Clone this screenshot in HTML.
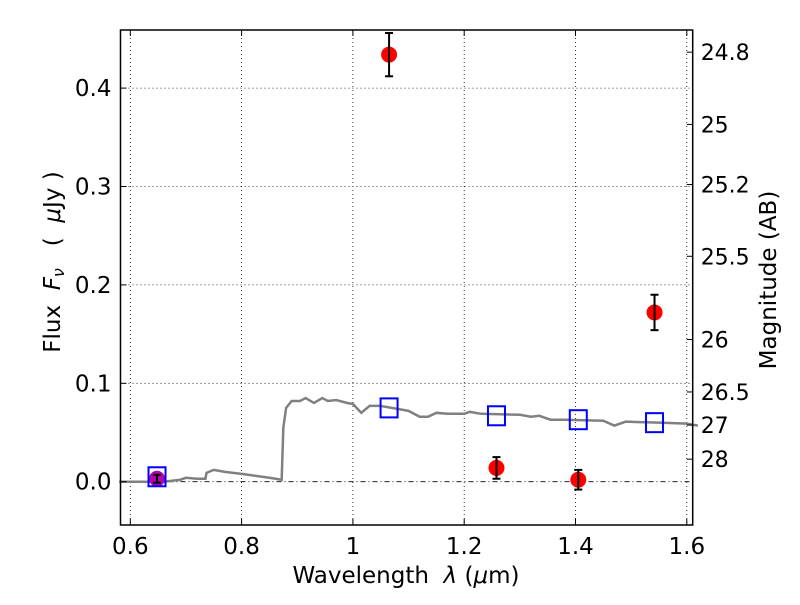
<!DOCTYPE html>
<html><head><meta charset="utf-8"><style>
body{margin:0;background:#fff}
svg text{font-family:"DejaVu Sans","Liberation Sans",sans-serif;fill:#000}
</style></head><body>
<svg id="chart" width="800" height="600" xmlns="http://www.w3.org/2000/svg">
<rect width="800" height="600" fill="#fff"/>
<g id="grid"></g>
<g id="marks"></g>
<g id="axes"></g>
<text x="406" y="583" font-size="23" text-anchor="middle">Wavelength&#160;&#160;<tspan font-style="italic">λ</tspan>&#160;(<tspan font-style="italic">μ</tspan>m)</text>
<text transform="translate(60,262) rotate(-90)" font-size="23" text-anchor="middle">Flux&#160;&#160;<tspan font-style="italic">F<tspan font-size="16" dy="4">ν</tspan></tspan><tspan dy="-4">&#160;&#160;&#160;(&#160;&#160;</tspan><tspan font-style="italic">μ</tspan>Jy&#160;)</text>
<text transform="translate(776,280) rotate(-90)" font-size="23" text-anchor="middle">Magnitude (AB)</text>
</svg>
<script>
const xTicks=[0.6,0.8,1.0,1.2,1.4,1.6];
const xTickLabels=["0.6","0.8","1","1.2","1.4","1.6"];
const yTicks=[0.0,0.1,0.2,0.3,0.4];
const yTickLabels=["0.0","0.1","0.2","0.3","0.4"];
const magTicks=[24.8,25,25.2,25.5,26,26.5,27,28];
const magTickLabels=["24.8","25","25.2","25.5","26","26.5","27","28"];
const specWave=[0.58,0.66,0.69,0.70,0.72,0.735,0.737,0.75,0.77,0.80,0.85,0.872,0.875,0.88,0.89,0.905,0.915,0.93,0.945,0.955,0.97,0.99,1.0,1.015,1.03,1.05,1.08,1.10,1.12,1.135,1.15,1.17,1.2,1.21,1.23,1.3,1.32,1.335,1.355,1.38,1.45,1.47,1.49,1.55,1.6,1.62];
const specFlux=[0,0,0.002,0.004,0.003,0.003,0.009,0.012,0.010,0.008,0.004,0.002,0.055,0.075,0.082,0.082,0.085,0.080,0.085,0.082,0.083,0.080,0.079,0.070,0.077,0.077,0.074,0.072,0.066,0.066,0.070,0.069,0.069,0.071,0.069,0.068,0.066,0.067,0.063,0.063,0.062,0.057,0.061,0.060,0.059,0.057];
const obsWave=[1.065,1.258,1.405,1.542];
const obsFlux=[0.434,0.014,0.002,0.172];
const obsErr=[0.022,0.011,0.010,0.018];
const limWave=[0.648];
const limFlux=[0.003];
const limErr=[0.004];
const modelWave=[0.648,1.065,1.258,1.405,1.542];
const modelFlux=[0.005,0.075,0.067,0.063,0.060];

const L=120.5,R=692.7,T=30,B=525;
const x=v=>130.3+(v-0.6)*556.5;
const y=v=>481.7-v*984;
const NS="http://www.w3.org/2000/svg";
function mk(p,tag,a){const e=document.createElementNS(NS,tag);for(const k in a)e.setAttribute(k,a[k]);p.appendChild(e);return e;}
const grid=document.getElementById('grid'),marks=document.getElementById('marks'),axes=document.getElementById('axes');
xTicks.forEach((t,i)=>{const l=mk(grid,'line',{x1:x(t),x2:x(t),y1:T,y2:B,stroke:'#000','stroke-width':0.8,'stroke-dasharray':'1,3'});
});
yTicks.forEach((t,i)=>{if(t===0)return;const l=mk(grid,'line',{x1:L,x2:R,y1:y(t),y2:y(t),stroke:'#000','stroke-width':0.8,'stroke-dasharray':'1,3'});
});
const zl=mk(grid,'line',{x1:L,x2:R,y1:y(0),y2:y(0),stroke:'#000','stroke-width':0.8,'stroke-dasharray':'5,3,1,3'});

const sp=mk(marks,'polyline',{points:specWave.map((w,i)=>x(w)+','+y(specFlux[i])).join(' '),fill:'none',stroke:'#808080','stroke-width':2.5});

function err(px,f,e,name){const g=mk(marks,'g',{stroke:'#000','stroke-width':2});

mk(g,'line',{x1:px,x2:px,y1:y(f-e),y2:y(f+e)});mk(g,'line',{x1:px-4,x2:px+4,y1:y(f-e),y2:y(f-e)});mk(g,'line',{x1:px-4,x2:px+4,y1:y(f+e),y2:y(f+e)});}
limWave.forEach((w,i)=>{const c=mk(marks,'circle',{cx:x(w),cy:y(limFlux[i]),r:8,fill:'#b000b0'});
err(x(w),limFlux[i],limErr[i],'purple-error-bar');});
obsWave.forEach((w,i)=>{const c=mk(marks,'circle',{cx:x(w),cy:y(obsFlux[i]),r:8,fill:'#ff0000'});
err(x(w),obsFlux[i],obsErr[i],'observed-error-bar');});
modelWave.forEach((w,i)=>{const r=mk(marks,'rect',{x:x(w)-8.5,y:y(modelFlux[i])-9.5,width:17,height:19,fill:'none',stroke:'#0000ff','stroke-width':2});
});
const fr=mk(axes,'rect',{x:L,y:T,width:R-L,height:B-T,fill:'none',stroke:'#000','stroke-width':1.5});

xTicks.forEach((t,i)=>{mk(axes,'line',{x1:x(t),x2:x(t),y1:B,y2:B-6,stroke:'#000'});mk(axes,'line',{x1:x(t),x2:x(t),y1:T,y2:T+6,stroke:'#000'});
const tx=mk(axes,'text',{x:x(t),y:B+29,'font-size':23,'text-anchor':'middle'});tx.textContent=xTickLabels[i];
});
yTicks.forEach((t,i)=>{mk(axes,'line',{x1:L,x2:L+6,y1:y(t),y2:y(t),stroke:'#000'});
const tx=mk(axes,'text',{x:L-9,y:y(t)+8,'font-size':23,'text-anchor':'end'});tx.textContent=yTickLabels[i];
});
magTicks.forEach((m,i)=>{const f=Math.pow(10,(23.9-m)/2.5);const py=y(f);
mk(axes,'line',{x1:R,x2:R-6,y1:py,y2:py,stroke:'#000'});
const tx=mk(axes,'text',{x:R+8,y:py+8,'font-size':22});tx.textContent=magTickLabels[i];
});
</script>
</body></html>
